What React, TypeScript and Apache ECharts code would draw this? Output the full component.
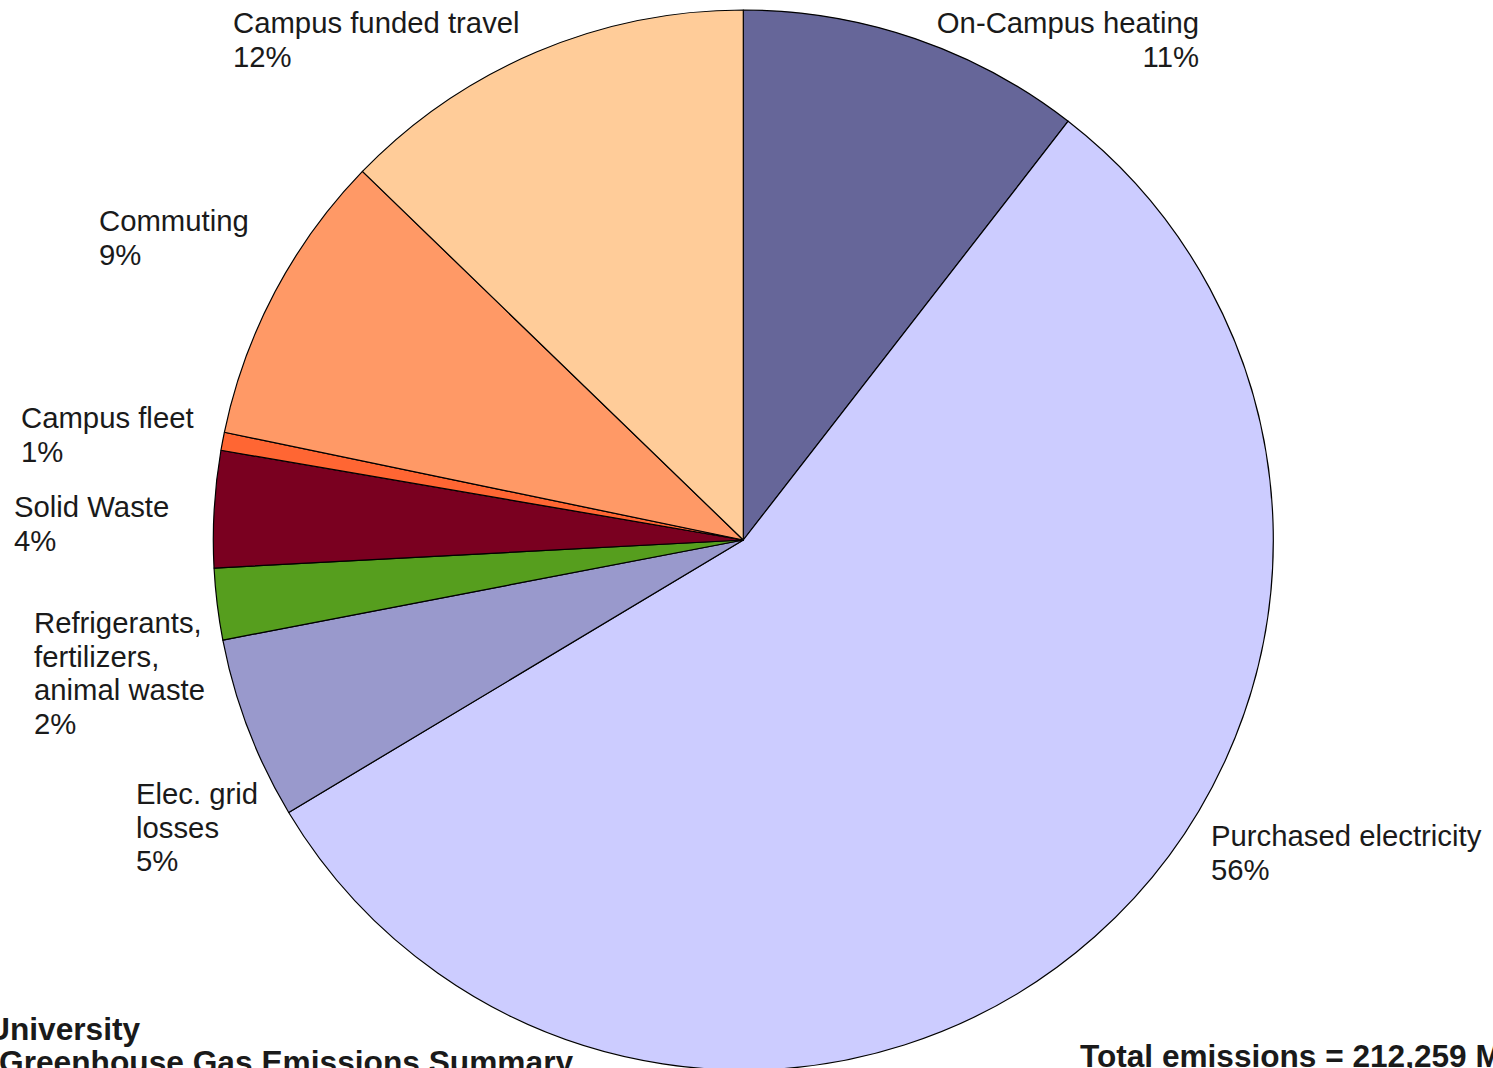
import React, { useEffect, useRef } from "react";
import * as echarts from "echarts";

// ---- Data ----
const categories = [
  "On-Campus heating",
  "Purchased electricity",
  "Elec. grid\nlosses",
  "Refrigerants,\nfertilizers,\nanimal waste",
  "Solid Waste",
  "Campus fleet",
  "Commuting",
  "Campus funded travel",
];
// share of total emissions (%)
const shares = [10.5, 55.9, 5.57, 2.18, 3.55, 0.55, 8.98, 12.76];
const percentLabels = ["11%", "56%", "5%", "2%", "4%", "1%", "9%", "12%"];
const titleLines = ["University", "Greenhouse Gas Emissions Summary"];
const totalText = "Total emissions = 212,259 MT CO2e";

// ---- Styles / layout ----
const colors = [
  "#666699",
  "#CCCCFF",
  "#9999CC",
  "#569E1E",
  "#7A0020",
  "#FF6633",
  "#FF9966",
  "#FFCC99",
];
const labelAnchors: { x: number; y: number; align: "left" | "right" }[] = [
  { x: 1199, y: 6, align: "right" },
  { x: 1211, y: 819, align: "left" },
  { x: 136, y: 777, align: "left" },
  { x: 34, y: 606, align: "left" },
  { x: 14, y: 490, align: "left" },
  { x: 21, y: 401, align: "left" },
  { x: 99, y: 204, align: "left" },
  { x: 233, y: 6, align: "left" },
];
const FONT = "'Liberation Sans', Arial, Helvetica, sans-serif";

export default function App() {
  const ref = useRef<HTMLDivElement>(null);
  useEffect(() => {
    if (!ref.current) return;
    const chart = echarts.init(ref.current, undefined, { renderer: "svg" });
    chart.setOption({
      animation: false,
      backgroundColor: "#ffffff",
      series: [
        {
          type: "pie",
          center: [743.3, 540],
          radius: [0, 530],
          startAngle: 90,
          clockwise: true,
          silent: true,
          avoidLabelOverlap: false,
          itemStyle: { borderColor: "#000000", borderWidth: 1.2 },
          label: {
            show: true,
            position: "outside",
            fontFamily: FONT,
            fontSize: 29.3,
            lineHeight: 33.5,
            color: "#1a1a1a",
            formatter: (p: any) =>
              categories[p.dataIndex] + "\n" + percentLabels[p.dataIndex],
          },
          labelLine: { show: false },
          labelLayout: (p: any) => {
            const a = labelAnchors[p.dataIndex];
            return { x: a.x, y: a.y, align: a.align, verticalAlign: "top" };
          },
          emphasis: { disabled: true },
          data: categories.map((name, i) => ({
            name,
            value: shares[i],
            itemStyle: { color: colors[i] },
          })),
        },
      ],
      graphic: [
        {
          type: "text",
          x: -13,
          y: 1029,
          style: {
            text: titleLines[0],
            fontFamily: FONT,
            fontSize: 31.7,
            fontWeight: "bold",
            fill: "#1a1a1a",
            textAlign: "left",
            textVerticalAlign: "middle",
          },
        },
        {
          type: "text",
          x: -1,
          y: 1062,
          style: {
            text: titleLines[1],
            fontFamily: FONT,
            fontSize: 31.7,
            fontWeight: "bold",
            fill: "#1a1a1a",
            textAlign: "left",
            textVerticalAlign: "middle",
          },
        },
        {
          type: "text",
          x: 1080,
          y: 1056,
          style: {
            text: totalText,
            fontFamily: FONT,
            fontSize: 31.6,
            fontWeight: "bold",
            fill: "#1a1a1a",
            textAlign: "left",
            textVerticalAlign: "middle",
          },
        },
      ],
    });
    return () => chart.dispose();
  }, []);
  return (
    <div
      ref={ref}
      style={{ position: "absolute", left: 0, top: 0, width: 1493, height: 1068 }}
    />
  );
}
